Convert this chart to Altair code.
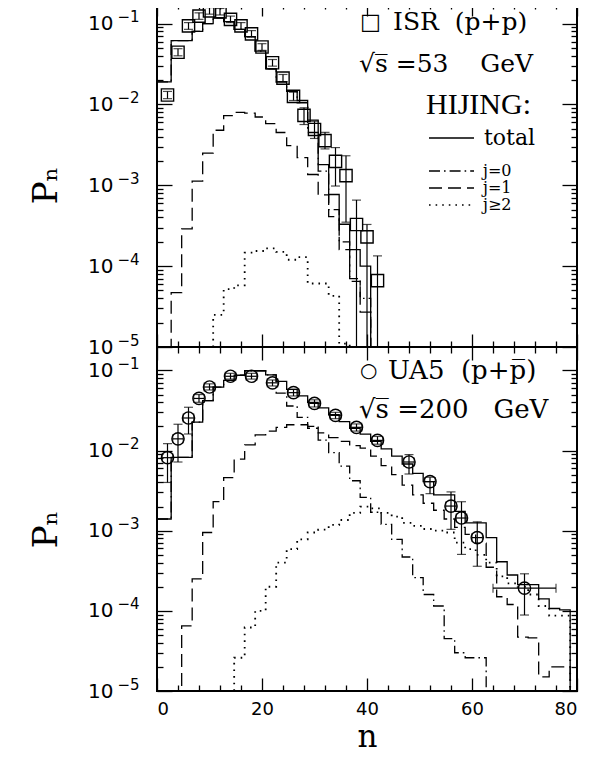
import altair as alt
import pandas as pd

W = 420
H = 344
FLOOR = 1e-7
SP = "\u00a0"

# ---------------- ISR (p+p), sqrt(s)=53 GeV ----------------
ISR_N = [2, 4, 6, 8, 10, 12, 14, 16, 18, 20, 22, 24, 26, 28, 30, 32, 34, 36, 38, 40, 42]
ISR_P = [0.0131, 0.0443, 0.0937, 0.124, 0.144, 0.140, 0.113, 0.0937, 0.0748, 0.0514, 0.0328,
         0.0212, 0.0126, 0.00734, 0.00491, 0.00357, 0.00198, 0.00132, 0.000328, 0.000230, 0.0000662]
ISR_LO = [0.0118, 0.040, 0.085, 0.113, 0.131, 0.128, 0.103, 0.085, 0.068, 0.0467, 0.0298,
          0.0191, 0.0112, 0.00565, 0.0038, 0.00282, 0.00098, 0.00035, 0, 0, 0]
ISR_HI = [0.0145, 0.049, 0.103, 0.136, 0.158, 0.154, 0.124, 0.103, 0.082, 0.0565, 0.036,
          0.0235, 0.0142, 0.0091, 0.0062, 0.00452, 0.00293, 0.00232, 0.000656, 0.000328, 0.000134]

# ---------------- UA5 (p+pbar), sqrt(s)=200 GeV ----------------
UA5_N = [2, 4, 6, 8, 10, 14, 18, 22, 26, 30, 34, 38, 42, 48, 52, 56, 58, 61, 70]
UA5_P = [0.00815, 0.0140, 0.0255, 0.0447, 0.0621, 0.0845, 0.0845, 0.070, 0.0528, 0.0388, 0.0275,
         0.0195, 0.0134, 0.0072, 0.0041, 0.00203, 0.00144, 0.00082, 0.000192]
UA5_LO = [0.0040, 0.0072, 0.0161, 0.040, 0.057, 0.078, 0.078, 0.064, 0.048, 0.035, 0.025,
          0.0175, 0.012, 0.0051, 0.0029, 0.00104, 0.000506, 0.00036, 0.0000887]
UA5_HI = [0.0122, 0.0213, 0.0347, 0.050, 0.068, 0.092, 0.092, 0.076, 0.058, 0.043, 0.030,
          0.0215, 0.015, 0.0089, 0.00465, 0.00305, 0.0023, 0.00129, 0.00029]
UA5_NLO = [1, 3, 5, 7, 9, 13, 17, 21, 25, 29, 33, 37, 41, 47, 51, 55, 57, 60, 64]
UA5_NHI = [3, 5, 7, 9, 11, 15, 19, 23, 27, 31, 35, 39, 43, 49, 53, 57, 59, 62, 76]

# ---------------- HIJING histograms (40 bins of width 2) ----------------
BIN_EDGES = [0.0] + [2 * k + 0.7 for k in range(1, 41)]

TOP_TOTAL = [0.019, 0.0615, 0.0615, 0.080, 0.100, 0.118, 0.106, 0.085, 0.069, 0.0457,
             0.0275, 0.019, 0.0145, 0.0112, 0.0064, 0.0018, 0.00077, 0.00033, 0.00016, 0.0001,
             0, 0, 0, 0, 0, 0, 0, 0, 0, 0, 0, 0, 0, 0, 0, 0, 0, 0, 0, 0]
TOP_J0 = [0.019, 0.0615, 0.0615, 0.080, 0.100, 0.118, 0.106, 0.085, 0.069, 0.0457,
          0.0275, 0.019, 0.0145, 0.0105, 0.0045, 0.0015, 0.0005, 0.0002, 0.00007, 0.00004,
          0, 0, 0, 0, 0, 0, 0, 0, 0, 0, 0, 0, 0, 0, 0, 0, 0, 0, 0, 0]
TOP_J1 = [0, 0.000047, 0.00029, 0.00113, 0.0025, 0.0048, 0.0073, 0.0080, 0.0078, 0.0070,
          0.0058, 0.0045, 0.0031, 0.0022, 0.00136, 0.00076, 0.00041, 0.00016, 0.000065, 0.000027,
          0, 0, 0, 0, 0, 0, 0, 0, 0, 0, 0, 0, 0, 0, 0, 0, 0, 0, 0, 0]
TOP_J2 = [0, 0, 0, 0, 0, 0.000025, 0.000052, 0.000058, 0.000147, 0.000154,
          0.000166, 0.00015, 0.00012, 0.000129, 0.000061, 0.000061, 0.000043, 0.000011, 0, 0,
          0, 0, 0, 0, 0, 0, 0, 0, 0, 0, 0, 0, 0, 0, 0, 0, 0, 0, 0, 0]

BOT_TOTAL = [0.0014, 0.0082, 0.0082, 0.0227, 0.042, 0.062, 0.075, 0.087, 0.099, 0.099,
             0.088, 0.073, 0.058, 0.048, 0.040, 0.034, 0.028, 0.023, 0.019, 0.016,
             0.013, 0.0105, 0.0085, 0.0068, 0.0052, 0.0041, 0.0028, 0.0028, 0.00174, 0.00125,
             0.00125, 0.00082, 0.00041, 0.00028, 0.000212, 0.000212, 0.000141, 0.000107, 0.000103, 0]
BOT_J0 = [0.0014, 0.0082, 0.0082, 0.0227, 0.042, 0.062, 0.075, 0.087, 0.099, 0.099,
          0.088, 0.052, 0.036, 0.026, 0.020, 0.0135, 0.0094, 0.0064, 0.0042, 0.0026,
          0.0017, 0.0012, 0.00078, 0.00047, 0.00026, 0.00016, 0.000115, 0.000045, 0.00003, 0.000026,
          0.000026, 0, 0, 0, 0, 0, 0, 0, 0, 0]
BOT_J1 = [0, 0, 0.000065, 0.00025, 0.00095, 0.0023, 0.0046, 0.0078, 0.0118, 0.0157,
          0.0175, 0.0195, 0.021, 0.021, 0.019, 0.0166, 0.0145, 0.013, 0.0115, 0.0107,
          0.0085, 0.0065, 0.005, 0.0037, 0.0028, 0.0022, 0.0018, 0.0014, 0.0011, 0.0009,
          0.0007, 0.00035, 0.00015, 0.00012, 0.000047, 0.000046, 0.000015, 0.00002, 0.00002, 0]
BOT_J2 = [0, 0, 0, 0, 0, 0, 0, 0.000026, 0.000062, 0.0001,
          0.0002, 0.0004, 0.00059, 0.00078, 0.00095, 0.00103, 0.00118, 0.00136, 0.00167, 0.002,
          0.0019, 0.00167, 0.0015, 0.00125, 0.00115, 0.00105, 0.001, 0.00095, 0.00071, 0.00059,
          0.0005, 0.0004, 0.00027, 0.00022, 0.0002, 0.00016, 0.000115, 0.000087, 0.000087, 0]

# ---------------- axes helpers ----------------
DEC = [1e-5, 1e-4, 1e-3, 1e-2, 1e-1]
YMIN = [m * d for d in [1e-5, 1e-4, 1e-3, 1e-2] for m in range(2, 10)]
XMAJ = [0, 20, 40, 60, 80]
XMIN = [4, 8, 12, 16, 24, 28, 32, 36, 44, 48, 52, 56, 64, 68, 72, 76]

XS = alt.Scale(domain=[0, 80], nice=False, zero=False)
YS_TOP = alt.Scale(type="log", domain=[1e-5, 0.18], nice=False)
YS_BOT = alt.Scale(type="log", domain=[1e-5, 0.196], nice=False)

EXP_EXPR = "'\u2212' + format(round(-log(datum.value) / LN10), 'd')"


def tick_ax(orient, values, size, offset):
    return alt.Axis(orient=orient, values=values, tickSize=size, offset=offset, labels=False,
                    domain=False, grid=False, ticks=True, tickColor="black", tickWidth=1.3,
                    title=None)


def y_base_ax():
    return alt.Axis(orient="left", values=DEC, labelExpr="'10'", ticks=False, domain=False,
                    grid=False, labelFontSize=20, labelFont="DejaVu Sans", labelColor="black",
                    labelPadding=44, labelOverlap=False, title="P\u2099", titleFont="DejaVu Serif",
                    titleFontSize=34, titleFontWeight="normal", titleColor="black", titleAngle=270,
                    titleX=-111, titleY=H / 2 + 10, titleBaseline="middle", titleAlign="center")


def y_exp_ax():
    return alt.Axis(orient="left", values=DEC, labelExpr=EXP_EXPR, ticks=False, domain=False,
                    grid=False, labelFontSize=15, labelFont="DejaVu Sans", labelColor="black",
                    labelPadding=18, labelOverlap=False, labelOffset=-7, title=None)


def x_label_ax():
    return alt.Axis(orient="bottom", values=XMAJ, ticks=False, domain=False, grid=False,
                    labelFontSize=18, labelFont="DejaVu Sans", labelColor="black", labelPadding=9,
                    labelFlush=True, labelOverlap=False, title="n", titleFont="DejaVu Serif",
                    titleFontSize=31, titleFontWeight="normal", titleColor="black", titlePadding=4)


def hist_df(vals):
    ps = [v if v > 0 else FLOOR for v in vals]
    ps = ps + [ps[-1]]
    return pd.DataFrame({"n": BIN_EDGES[:len(ps)], "p": ps})


def X(ax):
    return alt.X("n:Q", scale=XS, axis=ax)


def text_layer(txt, x, y, size, align="left", font="DejaVu Serif"):
    return alt.Chart(pd.DataFrame({"a": [0]})).mark_text(
        text=txt, font=font, fontSize=size, align=align, baseline="middle", color="black"
    ).encode(x=alt.value(x), y=alt.value(y))


def sample_line(x1, x2, y, dash):
    return alt.Chart(pd.DataFrame({"a": [0]})).mark_rule(
        color="black", strokeWidth=1.3, strokeDash=dash
    ).encode(x=alt.value(x1), x2=alt.value(x2), y=alt.value(y))


DOT = [1.6, 5]
DASH = [13, 6]
DASHDOT = [11, 4, 1.6, 4]


def panel(total, j0, j1, j2, pts, shape, extra, bottom, ys):
    def Y(ax, field="p"):
        return alt.Y(f"{field}:Q", scale=ys, axis=ax)

    lj2 = alt.Chart(hist_df(j2)).mark_line(
        interpolate="step-after", clip=True, color="black", strokeWidth=1.8, strokeDash=DOT
    ).encode(x=X(tick_ax("top", XMAJ, 13, -H)), y=Y(tick_ax("right", DEC, 15, -W)))
    lj1 = alt.Chart(hist_df(j1)).mark_line(
        interpolate="step-after", clip=True, color="black", strokeWidth=1.3, strokeDash=DASH
    ).encode(x=X(tick_ax("top", XMIN, 6, -H)), y=Y(tick_ax("right", YMIN, 6, -W)))
    lj0 = alt.Chart(hist_df(j0)).mark_line(
        interpolate="step-after", clip=True, color="black", strokeWidth=1.3, strokeDash=DASHDOT
    ).encode(x=X(tick_ax("bottom", XMAJ, 13, -H)), y=Y(tick_ax("left", DEC, 15, -W)))
    lt = alt.Chart(hist_df(total)).mark_line(
        interpolate="step-after", clip=True, color="black", strokeWidth=1.3
    ).encode(x=X(tick_ax("bottom", XMIN, 6, -H)), y=Y(tick_ax("left", YMIN, 6, -W)))

    err = alt.Chart(pts).mark_rule(color="black", strokeWidth=1.2, clip=True).encode(
        x=X(x_label_ax() if bottom else None), y=Y(y_base_ax(), "lo"), y2="hi:Q")
    cap_hi = alt.Chart(pts).mark_tick(orient="horizontal", size=9, thickness=1.2, color="black",
                                      clip=True).encode(x=X(None), y=Y(y_exp_ax(), "hi"))
    cap_lo = alt.Chart(pts).mark_tick(orient="horizontal", size=9, thickness=1.2, color="black",
                                      clip=True).encode(x=X(None), y=Y(None, "lo"))
    marks = alt.Chart(pts).mark_point(shape=shape, filled=False, size=150, color="black",
                                      strokeWidth=1.4, opacity=1, clip=True).encode(
        x=X(None), y=Y(None))
    layers = [lj2, lj1, lj0, lt, err, cap_hi, cap_lo, marks]
    if "nlo" in pts.columns:
        herr = alt.Chart(pts).mark_rule(color="black", strokeWidth=1.2, clip=True).encode(
            x=alt.X("nlo:Q", scale=XS, axis=None), x2="nhi:Q", y=Y(None))
        capl = alt.Chart(pts).mark_tick(orient="vertical", size=9, thickness=1.2, color="black",
                                        clip=True).encode(x=alt.X("nlo:Q", scale=XS, axis=None), y=Y(None))
        capr = alt.Chart(pts).mark_tick(orient="vertical", size=9, thickness=1.2, color="black",
                                        clip=True).encode(x=alt.X("nhi:Q", scale=XS, axis=None), y=Y(None))
        layers += [herr, capl, capr]
    layers += extra
    return alt.layer(*layers).resolve_scale(x="shared", y="shared").resolve_axis(
        x="independent", y="independent").properties(width=W, height=H)


isr = pd.DataFrame({"n": ISR_N, "p": ISR_P,
                    "lo": [v if v > 0 else FLOOR for v in ISR_LO], "hi": ISR_HI})
ua5 = pd.DataFrame({"n": UA5_N, "p": UA5_P, "lo": UA5_LO, "hi": UA5_HI,
                    "nlo": UA5_NLO, "nhi": UA5_NHI})

top_extra = [
    text_layer("\u25a1", 203, 19, 22),
    text_layer("ISR" + SP * 2 + "(p+p)", 236, 19, 25),
    text_layer("\u221as\u0305" + SP + "=53" + SP * 4 + "GeV", 202, 61, 25),
    text_layer("HIJING:", 374, 102, 30, align="right", font="Liberation Serif"),
    sample_line(272, 317, 135, [1, 0]),
    text_layer("total", 327, 135, 22),
    sample_line(272, 317, 168, DASHDOT),
    text_layer("j=0", 326, 168, 16),
    sample_line(272, 317, 185, DASH),
    text_layer("j=1", 326, 185, 16),
    sample_line(272, 317, 202, DOT),
    text_layer("j\u22652", 326, 202, 16),
]
bot_extra = [
    text_layer("\u25cb", 203, 24, 20),
    text_layer("UA5" + SP * 2 + "(p+p\u0305)", 231, 24, 26),
    text_layer("\u221as\u0305" + SP + "=200" + SP * 3 + "GeV", 202, 63, 26),
]

top = panel(TOP_TOTAL, TOP_J0, TOP_J1, TOP_J2, isr, "square", top_extra, False, YS_TOP)
bot = panel(BOT_TOTAL, BOT_J0, BOT_J1, BOT_J2, ua5, "circle", bot_extra, True, YS_BOT)

chart = alt.vconcat(top, bot, spacing=0, bounds="flush").properties(
    padding={"left": 20, "top": -7, "right": 0, "bottom": 0},
    background="white",
).configure_view(stroke="black", strokeWidth=2)

chart.save("out.html", embed_options={"renderer": "svg", "actions": False})
